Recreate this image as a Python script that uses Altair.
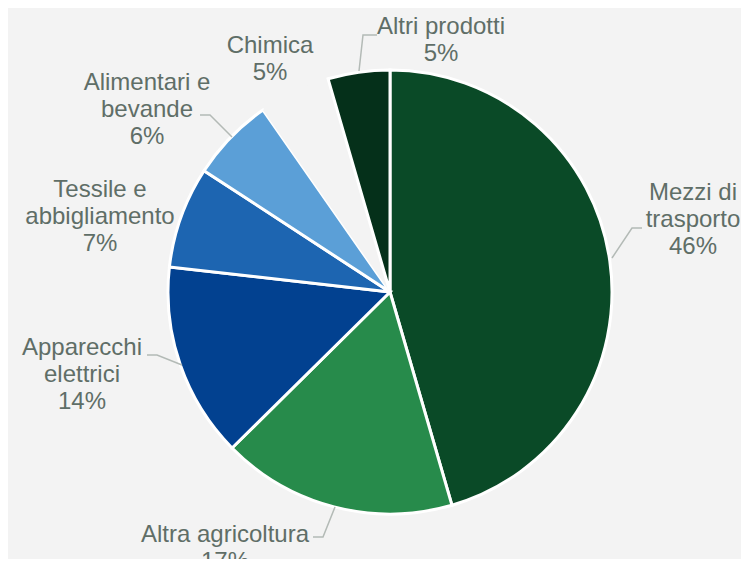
import altair as alt
import pandas as pd

# ---- data ----
categories = ["Mezzi di trasporto", "Altra agricoltura", "Apparecchi elettrici",
              "Tessile e abbigliamento", "Alimentari e bevande", "Chimica", "Altri prodotti"]
values = [45.5, 17.1, 14.2, 7.4, 6.1, 5.2, 4.5]
pct_labels = ["46%", "17%", "14%", "7%", "6%", "5%", "5%"]
label_lines = [["Mezzi di", "trasporto"], ["Altra agricoltura"], ["Apparecchi", "elettrici"],
               ["Tessile e", "abbigliamento"], ["Alimentari e", "bevande"], ["Chimica"], ["Altri prodotti"]]
colors = ["#0a4a27", "#278b4b", "#024190", "#1d65b1", "#5b9fd7", "#f3f3f3", "#05301a"]

# ---- layout (pixels relative to pie centre) ----
W, H = 733, 551
CX, CY, R = 382, 284, 222
label_pos = [(303, -99), (-165, 243), (-308, 56), (-290, -102), (-243, -209), (-120, -246), (51, -265)]
leaders = {
    "Mezzi di trasporto": [(222, -34), (242, -64), (252, -64)],
    "Altra agricoltura": [(-55, 215), (-67, 245), (-77, 245)],
    "Apparecchi elettrici": [(-208, 73), (-233, 63), (-243, 63)],
    "Alimentari e bevande": [(-158, -155), (-180, -177), (-190, -177)],
    "Altri prodotti": [(-31, -221), (-27, -257), (-13, -257)],
}

BG = "#f3f3f3"
TXT = "#5f6e67"

df = pd.DataFrame({"cat": categories, "val": values, "idx": list(range(len(categories)))})

pie = alt.Chart(df).mark_arc(stroke="white", strokeWidth=3, radius=R).encode(
    theta=alt.Theta("val:Q", stack=True),
    order=alt.Order("idx:Q"),
    color=alt.Color("cat:N", scale=alt.Scale(domain=categories, range=colors), legend=None),
    strokeOpacity=alt.condition(alt.datum.cat == "Chimica", alt.value(0), alt.value(1)),
    x=alt.value(CX), y=alt.value(CY),
)

xs = alt.Scale(domain=[-CX, W - CX], range=[0, W])
ys = alt.Scale(domain=[-CY, H - CY], range=[0, H])

lab_df = pd.DataFrame({
    "cat": categories,
    "text": ["\n".join(l + [p]) for l, p in zip(label_lines, pct_labels)],
    "lx": [p[0] for p in label_pos],
    "ly": [p[1] for p in label_pos],
})

labels = alt.Chart(lab_df).mark_text(
    font="Liberation Sans", fontSize=24, lineHeight=27, color=TXT,
    align="center", baseline="middle", lineBreak="\n",
).encode(
    x=alt.X("lx:Q", scale=xs, axis=None),
    y=alt.Y("ly:Q", scale=ys, axis=None),
    text="text:N",
)

rows = []
for c, pts in leaders.items():
    for k, (px, py) in enumerate(pts):
        rows.append({"cat": c, "k": k, "px": px, "py": py})
lead_df = pd.DataFrame(rows)

lines = alt.Chart(lead_df).mark_line(color="#b3bab6", strokeWidth=1.5).encode(
    x=alt.X("px:Q", scale=xs, axis=None),
    y=alt.Y("py:Q", scale=ys, axis=None),
    detail="cat:N",
    order="k:Q",
)

chart = alt.layer(pie, lines, labels).properties(
    width=W, height=H, padding=0, autosize=alt.AutoSizeParams(type="none"),
    background=BG,
).configure_view(stroke=None)

chart.save("out.html", embed_options={"renderer": "svg", "actions": False})
